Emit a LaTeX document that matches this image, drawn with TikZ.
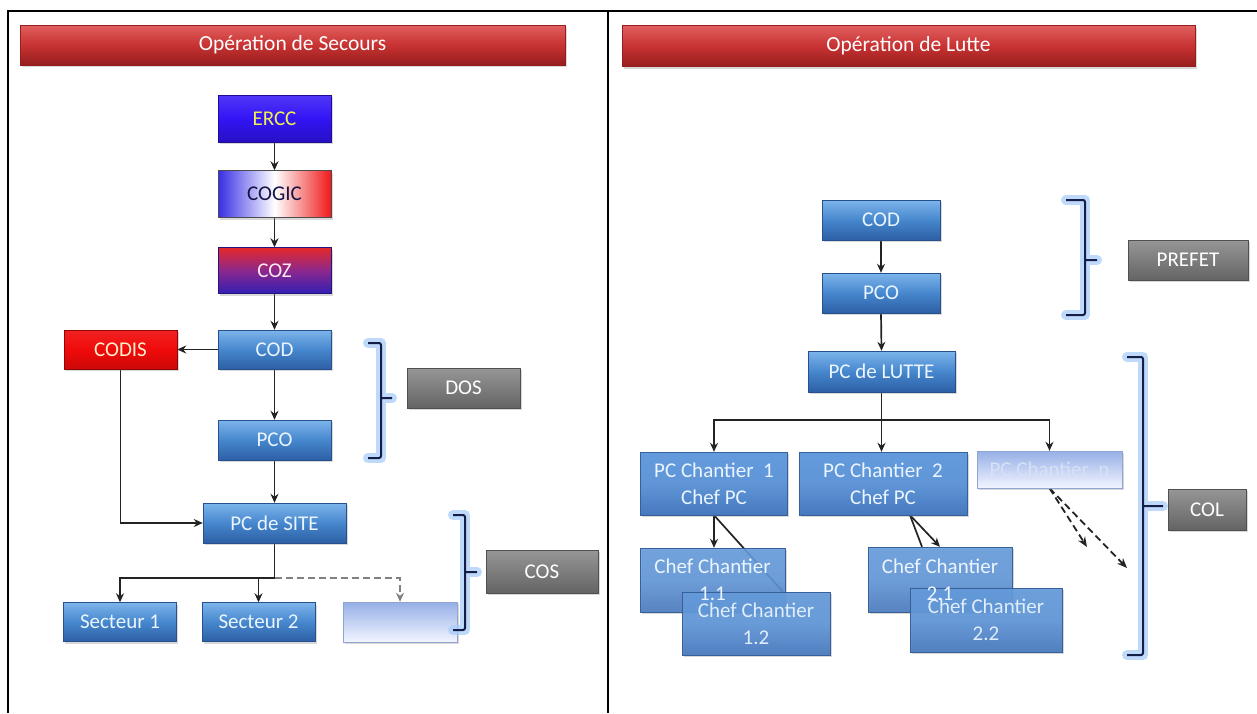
\documentclass[tikz,border=0pt]{standalone}
\usepackage{fontspec}
\setmainfont{Carlito}
\usetikzlibrary{arrows.meta,shadows,calc,backgrounds}

\definecolor{bluetop}{RGB}{125,180,235}
\definecolor{bluemid}{RGB}{70,135,205}
\definecolor{bluebot}{RGB}{45,95,165}
\definecolor{boxtxt}{RGB}{235,245,255}
\definecolor{flattop}{RGB}{100,155,220}
\definecolor{flatbot}{RGB}{70,120,190}
\definecolor{hdrtop}{RGB}{225,95,95}
\definecolor{hdrmid}{RGB}{200,50,50}
\definecolor{hdrbot}{RGB}{150,30,30}
\definecolor{graytop}{RGB}{150,150,150}
\definecolor{graymid}{RGB}{125,125,125}
\definecolor{graybot}{RGB}{100,100,100}
\definecolor{erccblue}{RGB}{50,20,245}
\definecolor{cogicblue}{RGB}{55,45,230}
\definecolor{cogicred}{RGB}{240,25,25}
\definecolor{cozred}{RGB}{230,40,40}
\definecolor{cozmid}{RGB}{140,40,140}
\definecolor{cozblue}{RGB}{50,30,180}
\definecolor{codisred}{RGB}{240,10,10}
\definecolor{palebluetop}{RGB}{150,175,230}
\definecolor{palebot}{RGB}{242,245,255}
\definecolor{paletxt}{RGB}{215,225,245}
\definecolor{bracenavy}{RGB}{20,30,70}
\definecolor{braceglowc}{RGB}{170,205,250}
\definecolor{connc}{RGB}{35,35,35}

\newcommand\bxf{\fontsize{21}{27}\selectfont}
\newcommand\hdf{\fontsize{21.5}{26}\selectfont}

\newcommand\drawbrace[6]{%
  \draw[braceglow] (#1,#3) -- (#2,#3) -- (#2,#4) -- (#1,#4) (#2,#5) -- (#6,#5);
  \draw[braceline] (#1,#3) -- (#2,#3) -- (#2,#4) -- (#1,#4) (#2,#5) -- (#6,#5);}

\tikzset{
  wh/.style 2 args={minimum width=#1, minimum height=#2},
  box/.style={rectangle, inner sep=0pt, align=center, font=\bxf,
    drop shadow={shadow xshift=1.5pt, shadow yshift=-2pt, opacity=0.3}},
  bluebox/.style={box, top color=bluetop, bottom color=bluebot, middle color=bluemid,
    text=boxtxt, draw=bluebot!85!black, line width=0.4pt},
  flatbox/.style={box, top color=flattop, bottom color=flatbot, middle color=flattop!85!flatbot,
    text=boxtxt, draw=flatbot!80!black, line width=0.4pt},
  hdr/.style={box, font=\hdf, top color=hdrtop, bottom color=hdrbot, middle color=hdrmid,
    text=white, draw=hdrbot, line width=0.4pt},
  graybox/.style={box, top color=graytop, bottom color=graybot, middle color=graymid,
    text=white, draw=graybot!80!black, line width=0.4pt},
  palebox/.style={box, top color=palebluetop, bottom color=palebot, middle color=palebluetop!50!palebot,
    text=paletxt, draw=palebluetop!80!gray, line width=0.4pt},
  txtonly/.style={inner sep=0pt, align=center, font=\bxf, text=boxtxt},
  conn/.style={draw=connc, line width=1.7pt, -{Stealth[length=9pt,width=8pt]}},
  plainconn/.style={draw=connc, line width=1.7pt},
  dashconn/.style={draw=connc, line width=1.8pt, dash pattern=on 7pt off 4pt, -{Stealth[length=10pt,width=8pt]}},
  graydash/.style={draw=gray, line width=1.6pt, dash pattern=on 7pt off 4pt, -{Stealth[length=9pt,width=8pt]}},
  braceglow/.style={draw=braceglowc, line width=10pt, opacity=0.75, line cap=round, line join=round},
  braceline/.style={draw=bracenavy, line width=2pt, rounded corners=2pt},
  frame/.style={draw=black, line width=1.3pt}
}

\begin{document}
\begin{tikzpicture}[x=1pt,y=-1pt]
\useasboundingbox (0,0) rectangle (1257,713);

% frame
\draw[frame] (8,713) -- (8,11) -- (1257,11);
\draw[frame] (608,11) -- (608,713);

% headers
\node[hdr, wh={545}{40}] (hdrL) at (292.5,45) {Opération de Secours};
\node[hdr, wh={573}{41}] (hdrR) at (908.5,46) {Opération de Lutte};

% ---------- left chart ----------
\node[box, wh={113}{47}, top color=erccblue!85!white, bottom color=erccblue!80!black, middle color=erccblue,
      text={rgb,255:red,240;green,240;blue,80}, draw=erccblue!60!black, line width=0.4pt] (ercc) at (274.5,118.5) {ERCC};
\node[box, wh={113}{47}, left color=cogicblue, right color=cogicred, middle color=white,
      text={rgb,255:red,20;green,20;blue,70}, draw=gray!60!black, line width=0.4pt] (cogic) at (274.5,194) {COGIC};
\node[box, wh={113}{46}, top color=cozred, bottom color=cozblue, middle color=cozmid,
      text={rgb,255:red,255;green,232;blue,242}, draw=cozblue!70!black, line width=0.4pt] (coz) at (274.5,270.5) {COZ};
\node[bluebox, wh={113}{39}] (codL) at (274.5,349.5) {COD};
\node[box, wh={113}{39}, top color=codisred!90!white, bottom color=codisred!85!black, middle color=codisred,
      text={rgb,255:red,255;green,240;blue,205}, draw=codisred!60!black, line width=0.4pt] (codis) at (120.5,349.5) {CODIS};
\node[bluebox, wh={113}{40}] (pcoL) at (274.5,440) {PCO};
\node[bluebox, wh={143}{40}] (pcsite) at (274.5,523) {PC de SITE};
\node[bluebox, wh={113}{39}] (sect1) at (120,622) {Secteur 1};
\node[bluebox, wh={113}{39}] (sect2) at (258.5,622) {Secteur 2};
\node[palebox, wh={114}{40}] (empty) at (400,622) {};
\node[graybox, wh={113}{40}] (dos) at (463.5,388) {DOS};
\node[graybox, wh={112}{43}] (cos) at (542,571.5) {COS};

\drawbrace{368}{381}{343}{458}{398}{392}
\drawbrace{453}{465}{515}{630}{572}{477}

% ---------- right chart ----------
\node[bluebox, wh={118}{40}] (codR) at (881,220) {COD};
\node[bluebox, wh={118}{40}] (pcoR) at (881,293) {PCO};
\node[bluebox, wh={147}{41}] (pclutte) at (881.5,371.5) {PC de LUTTE};
\node[flatbox, wh={147}{63}] (pc1) at (714,483.5) {PC Chantier\ \ 1\\Chef PC};
\node[flatbox, wh={168}{63}] (pc2) at (883,483.5) {PC Chantier\ \ 2\\Chef PC};
\node[palebox, wh={145}{37}] (pcn) at (1049.5,469.5) {PC Chantier\ \ n};

\node[flatbox, wh={145}{64}, fill opacity=0.88] (cc11) at (712.5,580) {};
\node[flatbox, wh={148}{63}, fill opacity=0.92] (cc12) at (756,623.5) {Chef Chantier\\1.2};
\node[txtonly] (cc11t) at (cc11) {Chef Chantier\\1.1};
\node[flatbox, wh={144}{65}, fill opacity=0.88] (cc21) at (940,579.5) {};
\node[flatbox, wh={152}{64}, fill opacity=0.92] (cc22) at (986,620) {Chef Chantier\\2.2};
\node[txtonly] (cc21t) at (cc21) {Chef Chantier\\2.1};

\node[graybox, wh={120}{40}] (prefet) at (1188,260) {PREFET};
\node[graybox, wh={78}{41}] (col) at (1207,509.5) {COL};

\drawbrace{1066}{1085}{200}{315}{260}{1097}
\drawbrace{1127}{1143}{357}{655}{506}{1163}

\coordinate (dn1) at (1087,547);
\coordinate (dn2) at (1127,568);

% ---------- connectors ----------
\begin{scope}[on background layer]
\fill[white] (0,0) rectangle (1257,713);
\draw[conn] (ercc.south) -- (cogic.north);
\draw[conn] (cogic.south) -- (coz.north);
\draw[conn] (coz.south) -- (codL.north);
\draw[conn] (codL.west) -- (codis.east);
\draw[conn] (codL.south) -- (pcoL.north);
\draw[conn] (pcoL.south) -- (pcsite.north);
\draw[conn] (codis.south) |- (pcsite.west);
\coordinate (jL) at ($(pcsite.south)+(0,35)$);
\draw[plainconn] (pcsite.south) -- (jL);
\draw[conn] (jL) -| (sect1.north);
\draw[conn] (jL) -| (sect2.north);
\draw[graydash] (jL) -| (empty.north);

\draw[conn] (codR.south) -- (pcoR.north);
\draw[conn] (pcoR.south) -- (pclutte.north);
\coordinate (jR) at ($(pclutte.south)+(0,28)$);
\draw[plainconn] (pclutte.south) -- (jR);
\draw[conn] (jR) -| (pc1.north);
\draw[conn] (jR) -| (pcn.north);
\draw[conn] (jR) -- (jR |- pc2.north);
\draw[conn] (pc1.south) -- (pc1.south |- cc11.north);
\draw[plainconn] (pc1.south) -- ([xshift=27pt]cc12.north);
\draw[plainconn] ([xshift=27pt]pc2.south) -- ([xshift=-18pt]cc21.north);
\draw[conn] ([xshift=27pt]pc2.south) -- (cc21.north);
\draw[dashconn] (pcn.south) -- (dn1);
\draw[dashconn] (pcn.south) -- (dn2);
\end{scope}
\end{tikzpicture}
\end{document}
